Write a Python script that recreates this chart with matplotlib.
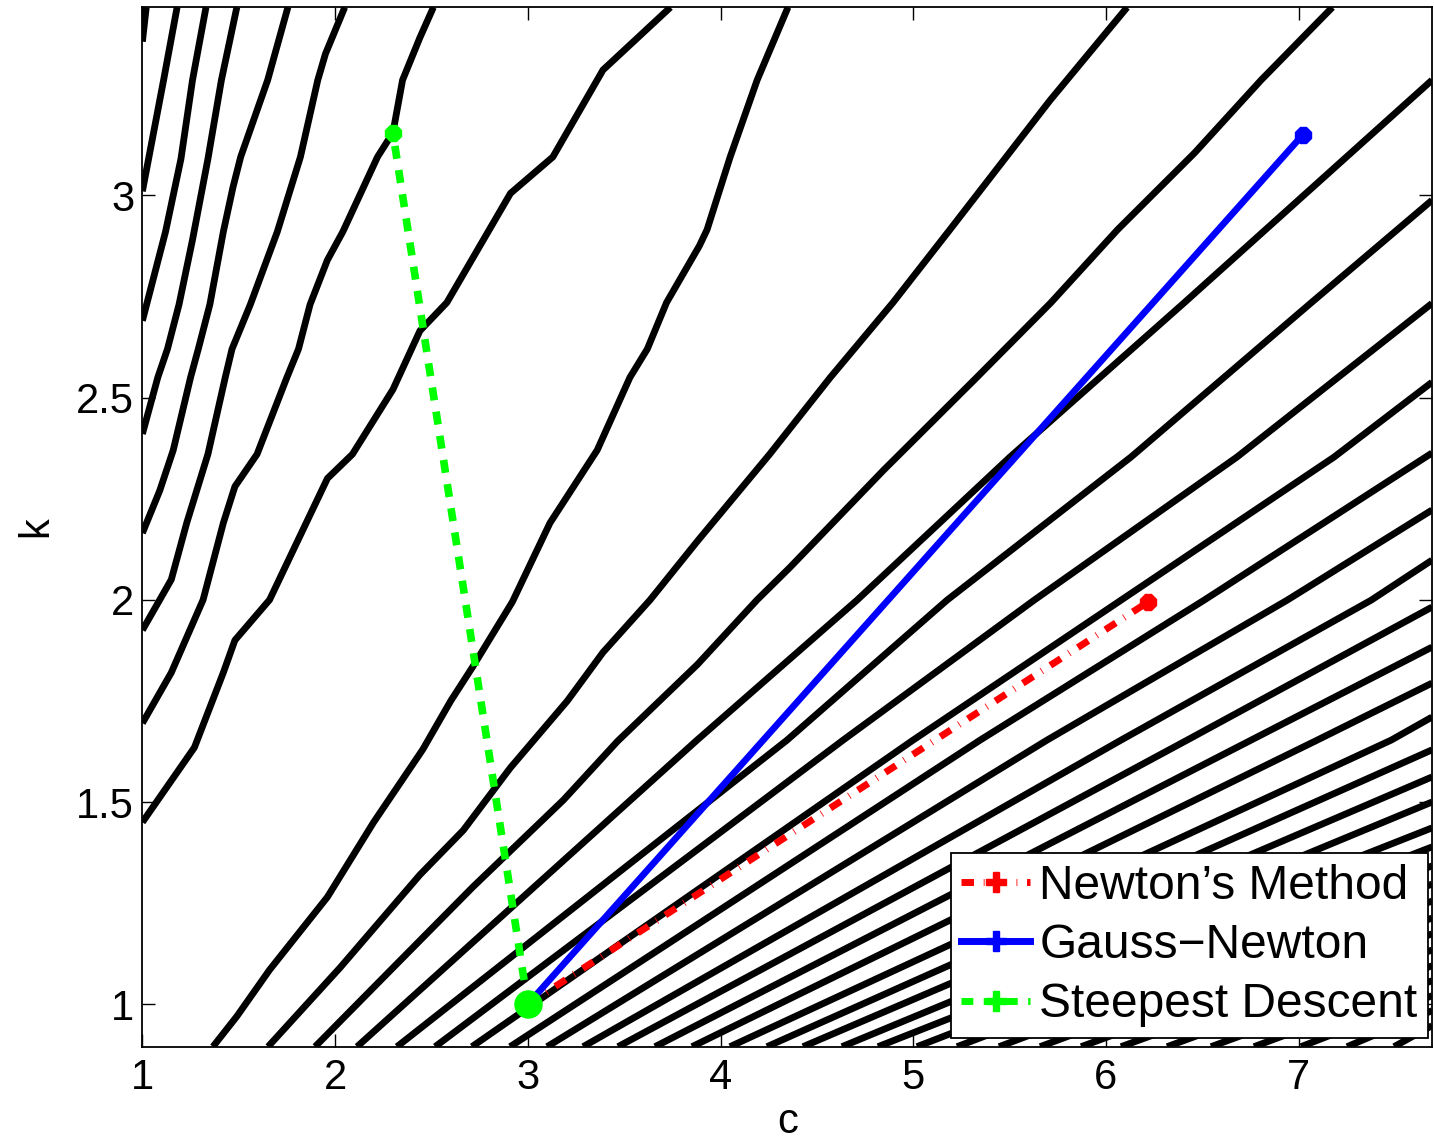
import matplotlib
matplotlib.use("Agg")
import matplotlib.pyplot as plt
from matplotlib.lines import Line2D

plt.rcParams['font.family'] = ['Liberation Sans', 'DejaVu Sans']

# axis limits
c_lim = (1.0, 7.692)
k_lim = (0.895, 3.465)

# curved contour lines in the upper left, (c, k) vertices
curve_u1 = [(1.00, 3.38), (1.02, 3.465)]
curve_u2 = [(1.00, 3.01), (1.11, 3.285), (1.18, 3.465)]
curve_u3 = [(1.00, 2.69), (1.12, 2.91), (1.20, 3.09), (1.26, 3.285), (1.33, 3.465)]
curve_u4 = [(1.00, 2.41), (1.08, 2.55), (1.13, 2.62), (1.19, 2.73), (1.26, 2.89),
            (1.34, 3.09), (1.41, 3.285), (1.49, 3.465)]
curve_u5 = [(1.00, 2.165), (1.09, 2.27), (1.16, 2.37), (1.25, 2.55), (1.29, 2.62),
            (1.35, 2.73), (1.42, 2.91), (1.47, 3.02), (1.51, 3.095), (1.65, 3.285),
            (1.755, 3.465)]
curve_u6 = [(1.00, 1.925), (1.09, 2.0), (1.15, 2.05), (1.23, 2.19), (1.34, 2.36),
            (1.43, 2.55), (1.465, 2.62), (1.56, 2.73), (1.70, 2.91), (1.82, 3.095),
            (1.91, 3.285), (1.95, 3.35), (2.05, 3.465)]
curve_u7 = [(1.00, 1.695), (1.15, 1.82), (1.315, 2.0), (1.42, 2.19), (1.48, 2.28),
            (1.595, 2.36), (1.75, 2.55), (1.81, 2.62), (1.87, 2.73), (1.96, 2.84),
            (2.04, 2.91), (2.22, 3.095), (2.30, 3.155), (2.35, 3.285), (2.44, 3.39),
            (2.51, 3.465)]
curve_u8 = [(1.00, 1.45), (1.27, 1.635), (1.42, 1.82), (1.48, 1.90), (1.66, 2.0),
            (1.85, 2.19), (1.96, 2.30), (2.09, 2.36), (2.30, 2.52), (2.44, 2.665),
            (2.58, 2.735), (2.91, 3.005), (3.13, 3.095), (3.39, 3.31), (3.74, 3.465)]

# contour lines running from the bottom edge to the top edge
curve_b1 = [(1.366, 0.895), (1.49, 0.97), (1.66, 1.085), (1.96, 1.265), (2.20, 1.45),
            (2.455, 1.63), (2.60, 1.75), (2.715, 1.835), (2.92, 1.995), (3.115, 2.19),
            (3.36, 2.37), (3.53, 2.55), (3.62, 2.62), (3.72, 2.735), (3.89, 2.875),
            (3.93, 2.915), (4.05, 3.095), (4.19, 3.285), (4.35, 3.465)]
curve_b2 = [(1.652, 0.895), (2.025, 1.09), (2.44, 1.32), (2.665, 1.43), (2.91, 1.585),
            (3.205, 1.75), (3.39, 1.87), (3.635, 2.0), (3.88, 2.145), (4.255, 2.36),
            (4.57, 2.55), (4.895, 2.735), (5.19, 2.915), (5.71, 3.235), (6.11, 3.465)]
curve_b3 = [(1.896, 0.895), (2.30, 1.09), (2.715, 1.29), (3.185, 1.505), (3.465, 1.65),
            (3.88, 1.84), (4.19, 2.0), (4.36, 2.08), (4.845, 2.32), (5.33, 2.55),
            (5.715, 2.735), (6.06, 2.915), (6.46, 3.105), (6.805, 3.285), (7.175, 3.465)]

curves = [curve_u1, curve_u2, curve_u3, curve_u4, curve_u5, curve_u6, curve_u7,
          curve_u8, curve_b1, curve_b2, curve_b3]

# almost straight contour lines in the lower right:
# c where they leave the bottom edge, k where they reach the right edge
lower_bottom_c = [2.114, 2.321, 2.519, 2.710, 2.908, 3.100, 3.287, 3.468, 3.660,
                  3.852, 4.049, 4.241, 4.428, 4.630, 4.817, 5.019, 5.227, 5.445,
                  5.658, 5.871, 6.078, 6.317, 6.545, 6.768, 7.012, 7.251, 7.495]
lower_right_k = [3.285, 2.988, 2.733, 2.538, 2.363, 2.222, 2.098, 1.982, 1.883,
                 1.794, 1.710, 1.629, 1.562, 1.500, 1.436, 1.389, 1.342, 1.297,
                 1.255, 1.213, 1.174, 1.134, 1.095, 1.058, 1.021, 0.984, 0.947]
# c where the first lines of that group cross some rows of constant k
row_k = [1.653, 1.999, 2.353, 2.734]
row_c_1653 = [3.878, 4.345, 4.636, 4.999, 5.347, 5.694, 6.078, 6.421, 6.753, 7.096, 7.480]
row_c_1999 = [4.708, 5.175, 5.627, 6.078, 6.509, 6.940, 7.376]
row_c_2353 = [5.502, 6.130, 6.680, 7.184]
row_c_2734 = [6.405, 7.064]
row_c = [row_c_1653, row_c_1999, row_c_2353, row_c_2734]

# one step of each method from the same start
start = (3.0, 1.0)
newton_end = (6.22, 1.995)
gauss_newton_end = (7.02, 3.149)
steepest_end = (2.30, 3.154)

fig = plt.figure(figsize=(14.34, 11.46), dpi=100)
ax = fig.add_axes([0.0993, 0.08665, 0.89931, 0.90698])

contour_style = dict(color='black', lw=4.9, solid_capstyle='butt', solid_joinstyle='round')

for pts in curves:
    ax.plot([p[0] for p in pts], [p[1] for p in pts], **contour_style)

for i in range(len(lower_bottom_c)):
    pts = [(lower_bottom_c[i], k_lim[0])]
    for kk, cc in zip(row_k, row_c):
        if i < len(cc):
            pts.append((cc[i], kk))
    pts.append((c_lim[1], lower_right_k[i]))
    ax.plot([p[0] for p in pts], [p[1] for p in pts], **contour_style)

red = '#ff0000'
blue = '#0000ff'
green = '#00ff00'
newton_ls = (0, (1.8, 1.4, 0.12, 1.4))
steep_ls = (0, (1.7, 1.5))

ax.plot([start[0], newton_end[0]], [start[1], newton_end[1]], color=red, lw=5,
        linestyle=newton_ls, dash_capstyle='butt')
ax.plot(*newton_end, marker='8', color=red, ms=13)
ax.plot([start[0], gauss_newton_end[0]], [start[1], gauss_newton_end[1]], color=blue,
        lw=4.8, solid_capstyle='butt')
ax.plot(*gauss_newton_end, marker='8', color=blue, ms=13)
ax.plot([start[0], steepest_end[0]], [start[1], steepest_end[1]], color=green, lw=5.5,
        linestyle=steep_ls, dash_capstyle='butt')
ax.plot(*steepest_end, marker='8', color=green, ms=13)
ax.plot(*start, marker='o', color=green, ms=19.5, zorder=5)

ax.set_xlim(*c_lim)
ax.set_ylim(*k_lim)
ax.set_xticks([1, 2, 3, 4, 5, 6, 7])
ax.set_yticks([1, 1.5, 2, 2.5, 3])
ax.set_yticklabels(['1', '1.5', '2', '2.5', '3'])
ax.tick_params(direction='in', length=9.5, width=1, top=True, right=True, labelsize=30)
ax.tick_params(axis='x', pad=8)
ax.tick_params(axis='y', pad=6)
for s in ax.spines.values():
    s.set_linewidth(1.3)
ax.set_xlabel('c', fontsize=30, labelpad=3)
ax.set_ylabel('k', fontsize=30, labelpad=14)

handles = [
    Line2D([], [], color=red, lw=5, linestyle=newton_ls, dash_capstyle='butt', marker='P', ms=14),
    Line2D([], [], color=blue, lw=5, marker='P', ms=14),
    Line2D([], [], color=green, lw=5, linestyle=steep_ls, dash_capstyle='butt', marker='P', ms=14),
]
leg = ax.legend(handles, ['Newton\u2019s Method', 'Gauss\u2212Newton', 'Steepest Descent'],
                loc='lower right', bbox_to_anchor=(0.9969, 0.0084), borderaxespad=0,
                fontsize=34.5, handlelength=1.44, handletextpad=0.19, labelspacing=0.3,
                borderpad=0.22, fancybox=False, framealpha=1, edgecolor='black')
leg.get_frame().set_linewidth(1.3)

fig.savefig('out.png', dpi=100)
